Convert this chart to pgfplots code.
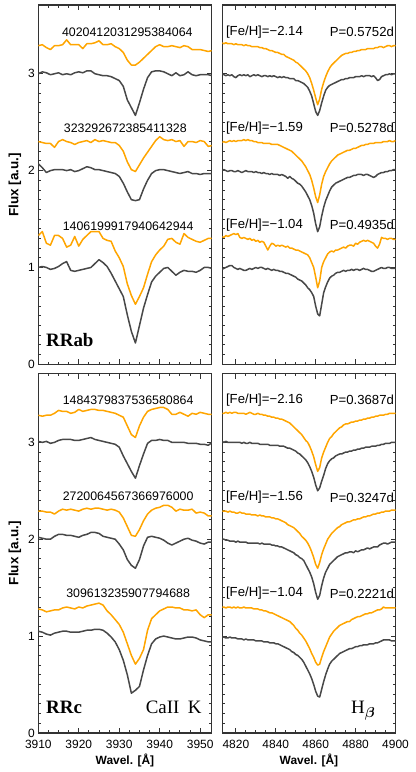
\documentclass[border=0pt]{standalone}
\usepackage{fontspec}
\setmainfont{Liberation Sans}
\newfontfamily\serif{Liberation Serif}
\usepackage{bm}
\usepackage{pgfplots}
\usepackage{pgfplotstable}
\pgfplotsset{compat=1.18}
\usepgfplotslibrary{groupplots}
\usetikzlibrary{calc}
\definecolor{orng}{HTML}{FFA500}
\definecolor{specgray}{HTML}{484848}

% columns: wavelength, then orange/gray pairs from top to bottom
\pgfplotstableread{
w o1 g1 o2 g2 o3 g3
3910 3.29 3.00 2.30 2.07 1.33 1.00
3911 3.30 3.02 2.29 2.03 1.37 1.01
3912 3.27 3.01 2.28 1.98 1.25 1.00
3913 3.25 2.99 2.28 2.00 1.23 0.98
3914 3.29 3.00 2.24 2.01 1.33 0.99
3915 3.29 3.01 2.30 2.01 1.33 1.01
3916 3.30 2.99 2.32 2.01 1.30 1.04
3917 3.35 3.00 2.30 2.00 1.21 1.06
3918 3.30 2.99 2.29 2.01 1.23 0.97
3919 3.30 3.01 2.27 1.99 1.32 0.96
3920 3.30 3.02 2.29 2.00 1.22 0.97
3921 3.26 3.01 2.30 2.02 1.29 0.98
3922 3.31 3.03 2.31 2.04 1.33 0.99
3923 3.31 3.03 2.29 2.03 1.37 1.00
3924 3.32 3.00 2.32 2.01 1.37 1.04
3925 3.34 2.99 2.30 2.01 1.37 1.08
3926 3.30 2.98 2.31 2.00 1.30 1.05
3927 3.30 2.98 2.30 1.99 1.28 1.01
3928 3.31 2.97 2.29 1.98 1.27 0.94
3929 3.28 2.95 2.29 1.97 1.17 0.86
3930 3.26 2.93 2.26 1.94 1.10 0.78
3931 3.22 2.87 2.20 1.87 1.01 0.70
3932 3.14 2.73 2.09 1.78 0.83 0.51
3933 3.09 2.65 2.01 1.70 0.71 0.34
3934 3.09 2.57 1.99 1.69 0.62 0.22
3935 3.12 2.70 2.06 1.70 0.70 0.40
3936 3.16 2.84 2.13 1.81 0.79 0.58
3937 3.20 2.96 2.19 1.90 0.93 0.72
3938 3.24 3.02 2.25 1.97 1.06 0.85
3939 3.28 3.03 2.31 2.00 1.13 0.91
3940 3.30 3.03 2.35 2.01 1.18 0.95
3941 3.28 3.02 2.32 2.01 1.22 0.99
3942 3.28 3.00 2.31 2.00 1.29 1.00
3943 3.29 2.98 2.32 1.99 1.30 0.96
3944 3.28 3.01 2.30 1.98 1.26 0.92
3945 3.27 2.98 2.31 1.97 1.24 0.95
3946 3.29 2.99 2.25 1.98 1.35 0.97
3947 3.28 3.02 2.30 1.99 1.31 0.96
3948 3.25 2.99 2.30 1.97 1.29 0.96
3949 3.25 2.98 2.29 1.97 1.27 0.95
3950 3.25 2.99 2.31 1.96 1.26 0.97
3951 3.24 2.99 2.30 1.97 1.28 1.00
3952 3.23 2.99 2.25 1.97 1.30 1.00
3953 3.24 2.98 2.26 1.97 1.30 0.99
}\tabTL

\pgfplotstableread{
w o1 g1 o2 g2 o3 g3
4813 3.32 3.00 2.29 2.00 1.32 0.98
4814 3.31 2.99 2.30 2.01 1.31 0.99
4815 3.32 2.98 2.29 2.00 1.33 1.00
4816 3.31 2.99 2.30 1.99 1.32 1.01
4817 3.31 2.98 2.31 2.00 1.33 1.02
4818 3.31 2.99 2.30 2.00 1.34 1.02
4819 3.30 2.97 2.31 1.99 1.35 1.00
4820 3.31 2.96 2.30 1.99 1.34 0.99
4821 3.30 2.98 2.31 2.00 1.35 0.98
4822 3.30 2.99 2.31 1.99 1.31 0.99
4823 3.30 2.98 2.31 1.98 1.30 0.98
4824 3.29 2.99 2.32 1.99 1.31 0.97
4825 3.30 2.98 2.31 2.00 1.30 0.97
4826 3.29 2.99 2.32 1.99 1.29 0.98
4827 3.29 2.97 2.31 1.99 1.30 0.99
4828 3.28 2.98 2.31 1.99 1.28 0.98
4829 3.28 2.99 2.30 1.98 1.29 0.99
4830 3.28 2.98 2.30 1.99 1.27 1.00
4831 3.28 2.99 2.29 1.98 1.28 0.99
4832 3.27 2.98 2.29 1.98 1.26 1.00
4833 3.27 2.97 2.29 1.97 1.27 1.00
4834 3.26 2.98 2.28 1.98 1.26 0.99
4835 3.26 2.98 2.28 1.97 1.22 0.98
4836 3.25 2.97 2.28 1.97 1.18 0.99
4837 3.24 2.98 2.28 1.96 1.22 0.98
4838 3.24 2.97 2.27 1.97 1.25 0.97
4839 3.23 2.98 2.27 1.96 1.24 0.98
4840 3.22 2.97 2.27 1.96 1.22 0.97
4841 3.22 2.96 2.27 1.96 1.23 0.97
4842 3.21 2.97 2.26 1.95 1.22 0.96
4843 3.20 2.96 2.25 1.96 1.23 0.96
4844 3.20 2.97 2.24 1.95 1.22 0.95
4845 3.18 2.96 2.23 1.94 1.21 0.94
4846 3.17 2.96 2.22 1.92 1.22 0.94
4847 3.16 2.95 2.21 1.94 1.20 0.93
4848 3.15 2.95 2.20 1.92 1.20 0.92
4849 3.14 2.95 2.18 1.91 1.19 0.91
4850 3.12 2.93 2.16 1.89 1.18 0.90
4851 3.11 2.93 2.14 1.87 1.18 0.88
4852 3.09 2.92 2.12 1.86 1.17 0.87
4853 3.07 2.91 2.10 1.84 1.16 0.86
4854 3.05 2.90 2.07 1.81 1.15 0.84
4855 3.03 2.88 2.04 1.78 1.14 0.82
4856 3.00 2.86 2.00 1.74 1.13 0.79
4857 2.96 2.82 1.96 1.70 1.10 0.77
4858 2.90 2.77 1.90 1.64 1.05 0.74
4859 2.83 2.69 1.82 1.56 1.00 0.70
4860 2.75 2.61 1.73 1.45 0.90 0.60
4861 2.68 2.57 1.67 1.37 0.79 0.52
4862 2.74 2.62 1.75 1.42 0.86 0.50
4863 2.84 2.70 1.86 1.53 1.00 0.62
4864 2.91 2.77 1.94 1.62 1.06 0.74
4865 2.97 2.83 1.99 1.69 1.10 0.80
4866 3.02 2.86 2.03 1.74 1.14 0.85
4867 3.06 2.88 2.07 1.79 1.16 0.89
4868 3.09 2.89 2.10 1.83 1.17 0.91
4869 3.11 2.90 2.12 1.85 1.16 0.92
4870 3.13 2.91 2.14 1.87 1.18 0.94
4871 3.15 2.92 2.16 1.88 1.18 0.95
4872 3.17 2.93 2.17 1.89 1.19 0.95
4873 3.19 2.94 2.18 1.90 1.20 0.96
4874 3.20 2.94 2.19 1.91 1.21 0.97
4875 3.21 2.95 2.20 1.92 1.20 0.96
4876 3.21 2.95 2.21 1.93 1.22 0.97
4877 3.22 2.96 2.21 1.93 1.23 0.97
4878 3.22 2.96 2.22 1.94 1.23 0.98
4879 3.23 2.96 2.23 1.95 1.22 0.97
4880 3.23 2.97 2.23 1.95 1.25 0.98
4881 3.24 2.97 2.24 1.96 1.24 0.98
4882 3.24 2.97 2.25 1.96 1.26 0.97
4883 3.25 2.98 2.26 1.96 1.27 0.98
4884 3.25 2.97 2.26 1.95 1.28 0.99
4885 3.25 2.98 2.27 1.96 1.27 0.98
4886 3.26 2.98 2.27 1.96 1.28 0.98
4887 3.26 2.98 2.28 1.95 1.27 0.97
4888 3.26 2.97 2.28 1.94 1.26 0.96
4889 3.26 2.98 2.28 1.93 1.25 0.96
4890 3.27 2.96 2.29 1.94 1.22 0.97
4891 3.27 2.93 2.29 1.96 1.20 0.98
4892 3.28 2.94 2.29 1.97 1.24 0.99
4893 3.28 2.97 2.29 1.98 1.31 1.00
4894 3.27 2.98 2.30 1.98 1.30 0.99
4895 3.28 2.99 2.30 1.99 1.30 0.99
4896 3.29 2.99 2.30 1.99 1.29 1.00
4897 3.29 3.00 2.31 2.00 1.30 1.00
4898 3.28 2.99 2.30 2.00 1.30 0.99
4899 3.29 3.00 2.30 2.01 1.29 0.99
4900 3.29 3.00 2.31 2.01 1.29 0.99
}\tabTR

\pgfplotstableread{
w o1 g1 o2 g2 o3 g3
3910 3.28 3.01 2.29 2.02 1.28 1.05
3911 3.27 3.00 2.29 2.01 1.27 1.04
3912 3.28 3.01 2.28 2.00 1.25 1.02
3913 3.28 2.99 2.28 2.00 1.26 1.01
3914 3.30 3.00 2.26 2.03 1.27 1.03
3915 3.33 3.02 2.29 2.05 1.27 1.04
3916 3.32 3.03 2.31 2.05 1.29 1.05
3917 3.32 3.03 2.30 2.04 1.30 1.05
3918 3.30 3.03 2.31 2.04 1.29 1.04
3919 3.31 3.02 2.30 2.03 1.28 1.04
3920 3.34 3.02 2.29 2.02 1.30 1.04
3921 3.32 3.03 2.31 2.04 1.29 1.05
3922 3.33 3.04 2.32 2.05 1.31 1.06
3923 3.34 3.05 2.31 2.07 1.32 1.06
3924 3.34 3.03 2.32 2.07 1.33 1.07
3925 3.33 3.02 2.32 2.06 1.34 1.07
3926 3.33 3.01 2.31 2.03 1.32 1.06
3927 3.32 3.00 2.30 2.02 1.26 1.03
3928 3.31 2.99 2.31 2.01 1.22 0.99
3929 3.30 2.98 2.30 2.00 1.17 0.94
3930 3.28 2.95 2.28 1.95 1.12 0.86
3931 3.26 2.86 2.22 1.89 1.04 0.75
3932 3.17 2.78 2.13 1.79 0.92 0.60
3933 3.08 2.70 2.04 1.73 0.80 0.41
3934 3.05 2.63 2.03 1.70 0.71 0.44
3935 3.17 2.76 2.10 1.79 0.77 0.48
3936 3.26 2.88 2.19 1.93 0.86 0.65
3937 3.32 2.99 2.26 2.02 1.06 0.80
3938 3.34 3.02 2.30 2.03 1.18 0.92
3939 3.35 3.02 2.32 2.02 1.22 0.97
3940 3.36 3.03 2.33 2.01 1.26 0.99
3941 3.36 3.02 2.35 1.99 1.28 1.00
3942 3.34 3.02 2.35 1.96 1.30 0.99
3943 3.29 3.00 2.33 1.94 1.30 0.98
3944 3.29 3.00 2.29 1.96 1.29 0.97
3945 3.31 3.00 2.31 1.98 1.29 0.97
3946 3.29 3.00 2.30 2.00 1.27 0.98
3947 3.27 2.99 2.30 2.01 1.27 0.99
3948 3.30 2.99 2.31 1.99 1.26 0.99
3949 3.29 2.99 2.27 1.98 1.27 0.98
3950 3.31 2.98 2.28 1.96 1.22 0.96
3951 3.30 2.98 2.27 1.95 1.19 0.95
3952 3.29 2.97 2.24 1.97 1.22 0.94
3953 3.29 3.00 2.24 1.97 1.22 0.94
}\tabBL

\pgfplotstableread{
w o1 g1 o2 g2 o3 g3
4813 3.30 3.01 2.29 2.00 1.30 0.99
4814 3.30 3.00 2.29 2.00 1.30 0.99
4815 3.31 3.01 2.29 1.99 1.29 0.98
4816 3.30 3.00 2.28 1.99 1.30 0.98
4817 3.31 3.00 2.29 1.98 1.30 0.99
4818 3.30 3.00 2.28 1.98 1.29 0.98
4819 3.31 3.00 2.28 1.98 1.30 0.98
4820 3.31 3.00 2.27 1.97 1.29 0.98
4821 3.30 3.00 2.27 1.98 1.30 0.97
4822 3.30 3.00 2.28 1.97 1.29 0.97
4823 3.30 2.99 2.27 1.97 1.29 0.97
4824 3.30 3.00 2.27 1.97 1.30 0.96
4825 3.29 2.99 2.26 1.97 1.29 0.97
4826 3.30 2.99 2.26 1.96 1.29 0.96
4827 3.31 3.00 2.26 1.96 1.29 0.96
4828 3.30 2.99 2.25 1.96 1.29 0.96
4829 3.29 2.99 2.25 1.96 1.28 0.96
4830 3.29 2.99 2.25 1.96 1.28 0.95
4831 3.30 2.99 2.24 1.96 1.28 0.95
4832 3.29 2.98 2.25 1.95 1.27 0.95
4833 3.29 2.98 2.24 1.96 1.27 0.95
4834 3.28 2.98 2.24 1.95 1.26 0.94
4835 3.28 2.98 2.23 1.95 1.26 0.94
4836 3.27 2.98 2.23 1.95 1.25 0.94
4837 3.27 2.97 2.23 1.95 1.24 0.93
4838 3.26 2.97 2.22 1.94 1.24 0.93
4839 3.26 2.97 2.22 1.94 1.23 0.93
4840 3.25 2.97 2.21 1.93 1.22 0.92
4841 3.25 2.97 2.21 1.93 1.21 0.92
4842 3.24 2.96 2.20 1.92 1.20 0.91
4843 3.24 2.96 2.19 1.92 1.19 0.90
4844 3.23 2.96 2.18 1.91 1.18 0.89
4845 3.22 2.95 2.17 1.90 1.17 0.88
4846 3.21 2.94 2.15 1.89 1.16 0.87
4847 3.20 2.94 2.14 1.88 1.15 0.86
4848 3.18 2.93 2.13 1.87 1.13 0.84
4849 3.16 2.92 2.12 1.86 1.11 0.83
4850 3.14 2.91 2.10 1.84 1.08 0.81
4851 3.12 2.89 2.08 1.83 1.06 0.80
4852 3.10 2.88 2.06 1.81 1.03 0.78
4853 3.08 2.86 2.03 1.80 1.01 0.76
4854 3.05 2.84 2.01 1.78 0.98 0.73
4855 3.02 2.82 1.99 1.74 0.95 0.69
4856 3.00 2.79 1.96 1.70 0.91 0.65
4857 2.96 2.75 1.92 1.66 0.87 0.61
4858 2.91 2.70 1.87 1.61 0.82 0.56
4859 2.85 2.64 1.81 1.54 0.78 0.50
4860 2.77 2.56 1.74 1.45 0.73 0.43
4861 2.70 2.50 1.70 1.38 0.70 0.38
4862 2.74 2.53 1.76 1.42 0.71 0.37
4863 2.84 2.60 1.84 1.52 0.78 0.45
4864 2.90 2.66 1.90 1.60 0.84 0.53
4865 2.95 2.73 1.95 1.66 0.89 0.60
4866 3.00 2.78 2.00 1.70 0.94 0.66
4867 3.04 2.81 2.03 1.74 0.99 0.71
4868 3.06 2.83 2.06 1.76 1.02 0.74
4869 3.09 2.84 2.08 1.78 1.05 0.76
4870 3.11 2.86 2.10 1.80 1.07 0.78
4871 3.13 2.87 2.12 1.82 1.09 0.80
4872 3.15 2.88 2.13 1.83 1.11 0.82
4873 3.16 2.88 2.15 1.84 1.12 0.83
4874 3.18 2.89 2.16 1.85 1.13 0.84
4875 3.19 2.90 2.17 1.86 1.14 0.85
4876 3.19 2.90 2.18 1.86 1.15 0.86
4877 3.20 2.91 2.18 1.87 1.15 0.87
4878 3.21 2.91 2.19 1.87 1.17 0.87
4879 3.21 2.92 2.20 1.86 1.18 0.88
4880 3.22 2.92 2.20 1.88 1.19 0.89
4881 3.22 2.93 2.21 1.87 1.20 0.89
4882 3.23 2.93 2.21 1.88 1.20 0.90
4883 3.23 2.94 2.22 1.89 1.21 0.90
4884 3.24 2.94 2.23 1.89 1.22 0.91
4885 3.24 2.95 2.23 1.90 1.23 0.91
4886 3.25 2.95 2.24 1.91 1.23 0.91
4887 3.25 2.95 2.24 1.90 1.24 0.92
4888 3.26 2.96 2.25 1.91 1.24 0.92
4889 3.26 2.96 2.26 1.92 1.25 0.92
4890 3.27 2.96 2.26 1.92 1.26 0.93
4891 3.27 2.97 2.27 1.92 1.27 0.93
4892 3.28 2.97 2.27 1.94 1.27 0.94
4893 3.28 2.98 2.28 1.95 1.28 0.95
4894 3.28 2.98 2.28 1.96 1.30 0.96
4895 3.29 2.99 2.29 1.96 1.29 0.96
4896 3.29 2.99 2.29 1.95 1.29 0.96
4897 3.30 2.99 2.29 1.96 1.29 0.96
4898 3.30 3.00 2.30 1.97 1.29 0.95
4899 3.30 3.00 2.30 1.97 1.29 0.95
4900 3.30 3.00 2.30 1.97 1.29 0.95
}\tabBR

\pgfplotsset{spec/.style={line width=1.5bp, line join=round, no markers}}
\tikzset{
  idlab/.style={font=\fontsize{12.4}{14}\selectfont, inner sep=0pt},
  felab/.style={font=\fontsize{13.2}{15}\selectfont, inner sep=0pt},
}

\newcommand{\pairs}[1]{%
  \addplot[spec, specgray] table[x=w,y=g1]{#1};
  \addplot[spec, orng] table[x=w,y=o1]{#1};
  \addplot[spec, specgray] table[x=w,y=g2]{#1};
  \addplot[spec, orng] table[x=w,y=o2]{#1};
  \addplot[spec, specgray] table[x=w,y=g3]{#1};
  \addplot[spec, orng] table[x=w,y=o3]{#1};
}

\begin{document}
\begin{tikzpicture}
\begin{groupplot}[
  group style={group size=2 by 2, horizontal sep=10.8bp, vertical sep=9.3bp,
    xticklabels at=edge bottom, yticklabels at=edge left},
  scale only axis, width=173.2bp, height=359.3bp,
  ymin=0, ymax=3.71, ytick={0,1,2,3}, minor y tick num=9,
  minor x tick num=3,
  major tick length=5bp, minor tick length=2.7bp,
  axis line style={line width=1.2bp, black!80},
  every tick/.style={line width=0.9bp, black!80},
  tick label style={font=\fontsize{12}{14}\selectfont},
  /pgf/number format/assume math mode=true,
  /pgf/number format/set thousands separator={},
  xticklabel style={yshift=-3.5bp},
  label style={font=\bfseries\fontsize{12}{14}\selectfont},
  ylabel style={font=\bfseries\fontsize{13.5}{15}\selectfont,
    at={(axis description cs:-0.135,0.5)}, anchor=center},
  xlabel style={at={(axis description cs:0.5,-0.076)}, anchor=center},
]
% top left: RRab, Ca II K
\nextgroupplot[xmin=3910, xmax=3952.8, xtick={3910,3920,...,3950}, ylabel={Flux [a.u.]}]
\pairs{\tabTL}
\node[idlab] at (axis cs:3932,3.43) {4020412031295384064};
\node[idlab] at (axis cs:3931.5,2.44) {323292672385411328};
\node[idlab] at (axis cs:3932.2,1.43) {1406199917940642944};
\node[font=\serif\bfseries\fontsize{19}{20}\selectfont, inner sep=0pt, anchor=base west] at (axis cs:3911.9,0.18) {RRab};

% top right: RRab, H beta
\nextgroupplot[xmin=4813.2, xmax=4900, xtick={4820,4840,...,4900}]
\pairs{\tabTR}
\node[felab, anchor=west] at (axis cs:4815,3.43) {[Fe/H]=−2.14};
\node[felab, anchor=east] at (axis cs:4899.3,3.43) {P=0.5752d};
\node[felab, anchor=west] at (axis cs:4815,2.44) {[Fe/H]=−1.59};
\node[felab, anchor=east] at (axis cs:4899.3,2.44) {P=0.5278d};
\node[felab, anchor=west] at (axis cs:4815,1.44) {[Fe/H]=−1.04};
\node[felab, anchor=east] at (axis cs:4899.3,1.44) {P=0.4935d};

% bottom left: RRc, Ca II K
\nextgroupplot[xmin=3910, xmax=3952.8, xtick={3910,3920,...,3950},
  ylabel={Flux [a.u.]}, xlabel={Wavel. [Å]}]
\pairs{\tabBL}
\node[idlab] at (axis cs:3932.2,3.43) {1484379837536580864};
\node[idlab] at (axis cs:3932.2,2.44) {2720064567366976000};
\node[idlab] at (axis cs:3932.2,1.44) {309613235907794688};
\node[font=\serif\bfseries\fontsize{19}{20}\selectfont, inner sep=0pt, anchor=base west] at (axis cs:3911.9,0.20) {RRc};
\node[font=\serif\fontsize{19}{20}\selectfont, inner sep=0pt, anchor=base east] at (axis cs:3950.4,0.20) {CaII\hspace{0.45em}K};

% bottom right: RRc, H beta
\nextgroupplot[xmin=4813.2, xmax=4900, xtick={4820,4840,...,4900}, xlabel={Wavel. [Å]}]
\pairs{\tabBR}
\node[felab, anchor=west] at (axis cs:4815,3.44) {[Fe/H]=−2.16};
\node[felab, anchor=east] at (axis cs:4899.3,3.44) {P=0.3687d};
\node[felab, anchor=west] at (axis cs:4815,2.43) {[Fe/H]=−1.56};
\node[felab, anchor=east] at (axis cs:4899.3,2.43) {P=0.3247d};
\node[felab, anchor=west] at (axis cs:4815,1.44) {[Fe/H]=−1.04};
\node[felab, anchor=east] at (axis cs:4899.3,1.44) {P=0.2221d};
\node[font=\serif\fontsize{19}{20}\selectfont, inner sep=0pt, anchor=base east] at (axis cs:4890,0.20) {H$_{\bm{\beta}}$};
\end{groupplot}
\pgfresetboundingbox
\path[use as bounding box] ($(group c1r1.north west)+(-38.3bp,5bp)$) rectangle ($(group c2r2.south east)+(20.5bp,-39.1bp)$);
\end{tikzpicture}
\end{document}
